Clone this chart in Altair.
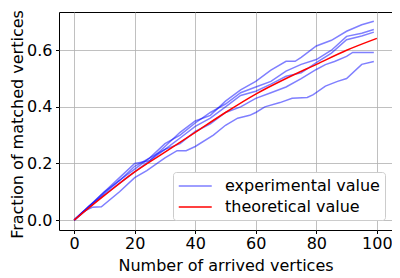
import altair as alt
import pandas as pd

# experimental runs (x = number of arrived vertices, y = fraction matched)
exp1_x = [0, 5, 10, 15, 20, 25, 30, 35, 40, 45, 50, 55, 60, 65, 70, 73, 75, 80, 85, 90, 95, 99]
exp1_y = [0, 0.05, 0.10, 0.15, 0.20, 0.21, 0.26, 0.31, 0.35, 0.37, 0.42, 0.46, 0.49, 0.53, 0.561, 0.561, 0.575, 0.615, 0.635, 0.667, 0.69, 0.702]

exp2_x = [0, 5, 10, 15, 20, 25, 30, 35, 40, 45, 50, 55, 60, 65, 70, 75, 80, 85, 90, 95, 99]
exp2_y = [0, 0.05, 0.10, 0.14, 0.19, 0.22, 0.27, 0.30, 0.343, 0.38, 0.41, 0.45, 0.47, 0.49, 0.526, 0.55, 0.567, 0.60, 0.649, 0.66, 0.673]

exp3_x = [0, 5, 10, 15, 20, 25, 30, 35, 40, 45, 50, 55, 60, 65, 70, 75, 80, 83, 86, 90, 92, 99]
exp3_y = [0, 0.05, 0.09, 0.13, 0.17, 0.21, 0.25, 0.27, 0.313, 0.34, 0.38, 0.40, 0.43, 0.45, 0.47, 0.50, 0.532, 0.549, 0.56, 0.578, 0.592, 0.592]

exp4_x = [0, 5, 10, 15, 20, 25, 30, 35, 40, 45, 50, 55, 60, 65, 70, 75, 80, 85, 90, 95, 99]
exp4_y = [0, 0.045, 0.095, 0.14, 0.18, 0.22, 0.25, 0.29, 0.331, 0.36, 0.40, 0.44, 0.455, 0.48, 0.508, 0.52, 0.556, 0.59, 0.637, 0.65, 0.664]

exp5_x = [0, 3, 6, 9, 15, 20, 24, 30, 34, 37, 40, 46, 50, 54, 58, 60, 63, 68, 72, 77, 79, 83, 87, 90, 95, 99]
exp5_y = [0, 0.03, 0.045, 0.047, 0.10, 0.15, 0.175, 0.22, 0.245, 0.245, 0.26, 0.30, 0.335, 0.36, 0.37, 0.38, 0.40, 0.415, 0.43, 0.433, 0.443, 0.473, 0.49, 0.50, 0.55, 0.56]

# theoretical curve
theo_x = [0, 10, 20, 30, 40, 50, 60, 70, 80, 90, 100]
theo_y = [0, 0.087, 0.17, 0.24, 0.31, 0.38, 0.445, 0.50, 0.55, 0.60, 0.642]

series_names = ["experimental value", "theoretical value"]
x_ticks = [0, 20, 40, 60, 80, 100]
y_ticks = [0.0, 0.2, 0.4, 0.6]

rows = []
for i, (xs, ys) in enumerate([(exp1_x, exp1_y), (exp2_x, exp2_y), (exp3_x, exp3_y),
                              (exp4_x, exp4_y), (exp5_x, exp5_y)]):
    for xv, yv in zip(xs, ys):
        rows.append({"run": f"r{i}", "series": series_names[0], "x": xv, "y": yv})
exp_df = pd.DataFrame(rows)
theo_df = pd.DataFrame({"x": theo_x, "y": theo_y, "series": series_names[1], "run": "t"})

FONT = "DejaVu Sans"
FS = 16

xenc = alt.X("x:Q", scale=alt.Scale(domain=[-5, 105], nice=False, zero=False),
             axis=alt.Axis(values=x_ticks, title="Number of arrived vertices", titleY=40,
                           titleBaseline="alphabetic", format="d"))
yenc = alt.Y("y:Q", scale=alt.Scale(domain=[-0.035, 0.735], nice=False, zero=False),
             axis=alt.Axis(values=y_ticks, title="Fraction of matched vertices", format=".1f",
                           titleX=-37, titleY=112, titleBaseline="alphabetic"))

legend = alt.Legend(title=None, orient="none", legendX=114, legendY=160,
                    symbolType="M-1,0H3", symbolSize=272, symbolStrokeWidth=1.5,
                    labelFontSize=FS, labelFont=FONT, labelColor="black",
                    padding=5, rowPadding=4, strokeColor="#cccccc", fillColor="white",
                    cornerRadius=3, labelOffset=29)

color = alt.Color("series:N", scale=alt.Scale(domain=series_names, range=["#0000ff", "#ff0000"]),
                  legend=legend)
opacity = alt.Opacity("series:N", scale=alt.Scale(domain=series_names, range=[0.5, 1.0]),
                      legend=legend)

blue = alt.Chart(exp_df).mark_line(strokeWidth=1.5).encode(
    x=xenc, y=yenc, color=color, opacity=opacity, detail="run:N", order="x:Q")
red = alt.Chart(theo_df).mark_line(strokeWidth=1.5, interpolate="monotone").encode(
    x=xenc, y=yenc, color=color, opacity=opacity)

chart = alt.layer(blue, red).properties(
    width=333, height=218,
    autosize=alt.AutoSizeParams(type="none"),
    padding={"left": 51, "top": 4, "right": 0, "bottom": 48},
).configure_view(
    stroke="black", strokeWidth=1
).configure_axis(
    labelFont=FONT, titleFont=FONT, labelFontSize=FS, titleFontSize=FS,
    titleFontWeight="normal", labelColor="black", titleColor="black",
    tickColor="black", tickSize=3.5, tickWidth=1, domain=False,
    grid=True, gridColor="#b0b0b0", gridWidth=0.8,
).configure_axisX(labelPadding=2).configure_axisY(labelPadding=3.5)

chart.save("out.html", embed_options={"renderer": "svg", "actions": False})
